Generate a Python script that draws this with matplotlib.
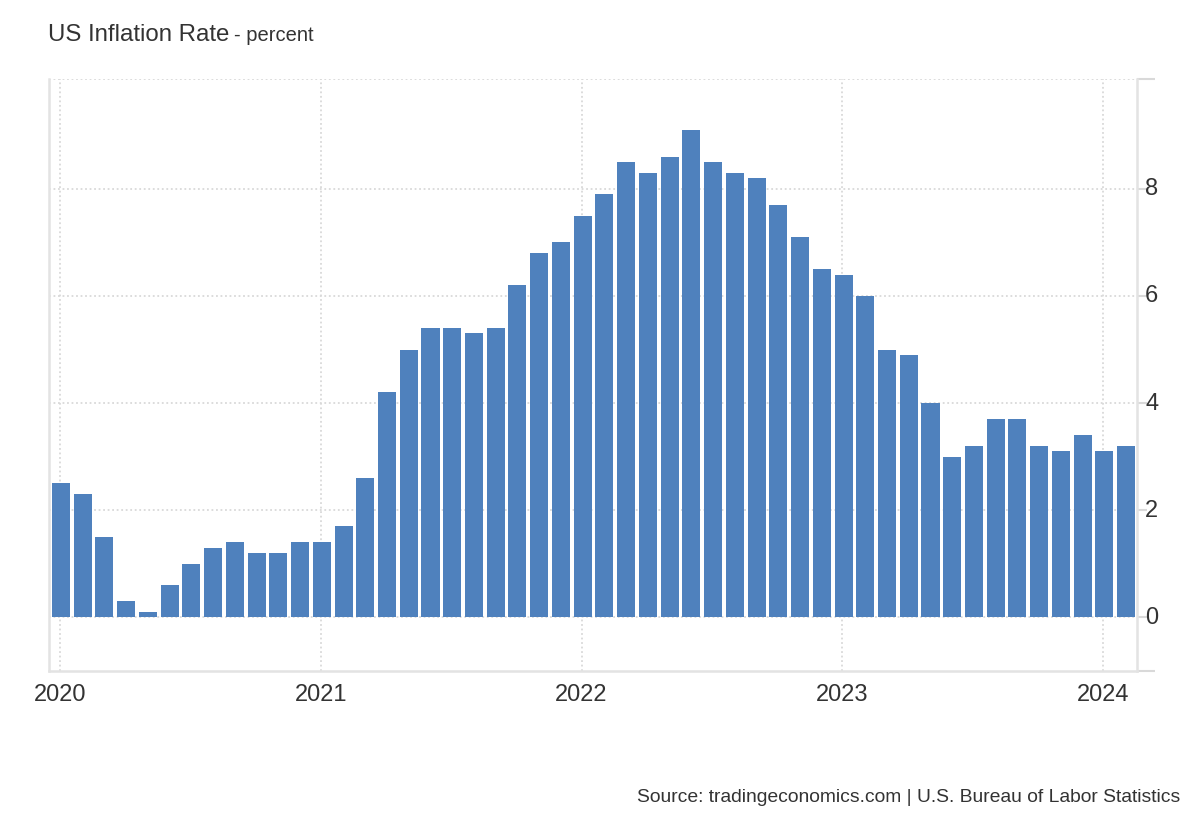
import numpy as np
import matplotlib
matplotlib.use('Agg')
import matplotlib.pyplot as plt
from matplotlib.ticker import FixedLocator
from matplotlib.transforms import ScaledTranslation

plt.rcParams['font.family'] = ['Liberation Sans', 'DejaVu Sans']

# monthly US CPI inflation, Jan 2020 - Feb 2024
rate_2020 = [2.5, 2.3, 1.5, 0.3, 0.1, 0.6, 1.0, 1.3, 1.4, 1.2, 1.2, 1.4]
rate_2021 = [1.4, 1.7, 2.6, 4.2, 5.0, 5.4, 5.4, 5.3, 5.4, 6.2, 6.8, 7.0]
rate_2022 = [7.5, 7.9, 8.5, 8.3, 8.6, 9.1, 8.5, 8.3, 8.2, 7.7, 7.1, 6.5]
rate_2023 = [6.4, 6.0, 5.0, 4.9, 4.0, 3.0, 3.2, 3.7, 3.7, 3.2, 3.1, 3.4]
rate_2024 = [3.1, 3.2]
years = ['2020', '2021', '2022', '2023', '2024']
y_ticks = [0, 2, 4, 6, 8]

rates = rate_2020 + rate_2021 + rate_2022 + rate_2023 + rate_2024
months = np.arange(len(rates))

text_col = '#333333'
grid_col = '#d9d9d9'
bar_col = '#4f81bd'

fig = plt.figure(figsize=(12, 8.2), dpi=100)
ax = fig.add_axes([49/1200, 1-672/820, (1137-49)/1200, (672-80)/820])

ax.bar(months, rates, width=0.83, color=bar_col, zorder=2)

ax.set_xlim(-0.55, 49.5)
ax.set_ylim(-1, 10.05)

ax.set_axisbelow(True)
ax.yaxis.tick_right()
ax.set_yticks(y_ticks)
ax.yaxis.set_minor_locator(FixedLocator([-1, 10.05]))
ax.set_xticks([i * 12 - 0.05 for i in range(len(years))])
ax.set_xticklabels(years)

ax.tick_params(axis='x', length=0, pad=9, labelsize=17, labelcolor=text_col)
ax.tick_params(axis='y', which='major', length=7, width=1.5, color=grid_col,
               pad=-1.2, labelsize=17, labelcolor=text_col)
ax.tick_params(axis='y', which='minor', length=13, width=1.5, color=grid_col)

# labels sit a little above their gridlines
for lab in ax.get_yticklabels():
    lab.set_transform(lab.get_transform() + ScaledTranslation(0, 0.03, fig.dpi_scale_trans))

ax.grid(True, which='major', color=grid_col, linestyle=(0, (1, 1.5)), linewidth=1.3)
ax.axhline(10.05, color=grid_col, linestyle=(0, (1, 1.5)), linewidth=1.3, zorder=0)

for side in ['left', 'bottom', 'right']:
    ax.spines[side].set_color('#e3e3e3')
    ax.spines[side].set_linewidth(1.8)
ax.spines['top'].set_visible(False)

t1 = fig.text(48/1200, 1-41/820, 'US Inflation Rate', fontsize=17.3,
              color=text_col, va='baseline', ha='left')
fig.canvas.draw()
bb = t1.get_window_extent()
fig.text(bb.x1/1200 + 5/1200, 1-41/820, '- percent', fontsize=14.5,
         color=text_col, va='baseline', ha='left')

fig.text(1180/1200, 1-802/820,
         'Source: tradingeconomics.com | U.S. Bureau of Labor Statistics',
         fontsize=13.9, color=text_col, ha='right', va='baseline')

fig.savefig('out.png', dpi=100)
